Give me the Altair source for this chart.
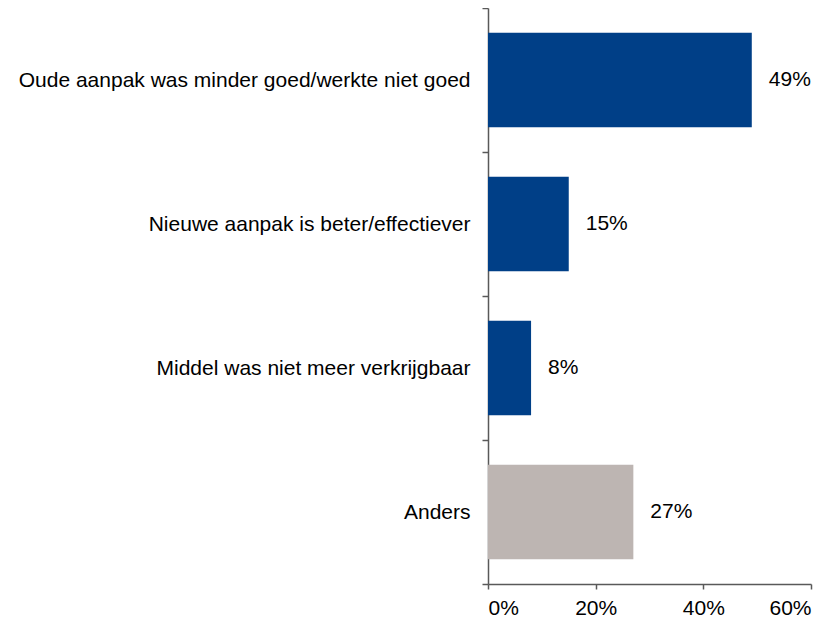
import altair as alt
import pandas as pd

categories = [
    "Oude aanpak was minder goed/werkte niet goed",
    "Nieuwe aanpak is beter/effectiever",
    "Middel was niet meer verkrijgbaar",
    "Anders",
]
values = [0.49, 0.15, 0.08, 0.27]
groups = ["hoofd", "hoofd", "hoofd", "anders"]
x_ticks = [0, 0.2, 0.4, 0.6]

df = pd.DataFrame({"cat": categories, "value": values, "group": groups})

FONT = "Liberation Sans"
AXIS_COLOR = "#595959"

base = alt.Chart(df).encode(
    y=alt.Y(
        "cat:N",
        sort=categories,
        scale=alt.Scale(paddingInner=0, paddingOuter=0),
        axis=alt.Axis(
            title=None,
            tickBand="extent",
            labelFontSize=21,
            labelFont=FONT,
            labelColor="black",
            domainColor=AXIS_COLOR,
            tickColor=AXIS_COLOR,
            domainWidth=1.5,
            tickWidth=1.5,
            tickSize=6,
            labelPadding=12,
            grid=False,
            labelLimit=700,
        ),
    )
)

bars = base.mark_bar(height={"band": 0.655}).encode(
    x=alt.X(
        "value:Q",
        scale=alt.Scale(domain=[0, 0.6], nice=False),
        axis=alt.Axis(
            title=None,
            format="%",
            values=x_ticks,
            labelFontSize=21,
            labelFont=FONT,
            labelColor="black",
            domainColor=AXIS_COLOR,
            tickColor=AXIS_COLOR,
            domainWidth=1.5,
            tickWidth=1.5,
            tickSize=5,
            labelPadding=8,
            grid=False,
        ),
    ),
    color=alt.Color(
        "group:N",
        scale=alt.Scale(domain=["hoofd", "anders"], range=["#003F87", "#BDB5B2"]),
        legend=None,
    ),
)

text = base.mark_text(
    align="left", baseline="middle", dx=17, fontSize=21, font=FONT, color="black"
).encode(
    x=alt.X("value:Q"),
    text=alt.Text("value:Q", format=".0%"),
)

chart = (
    alt.layer(bars, text)
    .properties(
        width=323,
        height=576,
        autosize=alt.AutoSizeParams(type="none"),
        padding={"left": 480, "top": 0, "right": 10, "bottom": 36},
    )
    .configure_view(stroke=None)
)

chart.save("out.html", embed_options={"renderer": "svg", "actions": False})
